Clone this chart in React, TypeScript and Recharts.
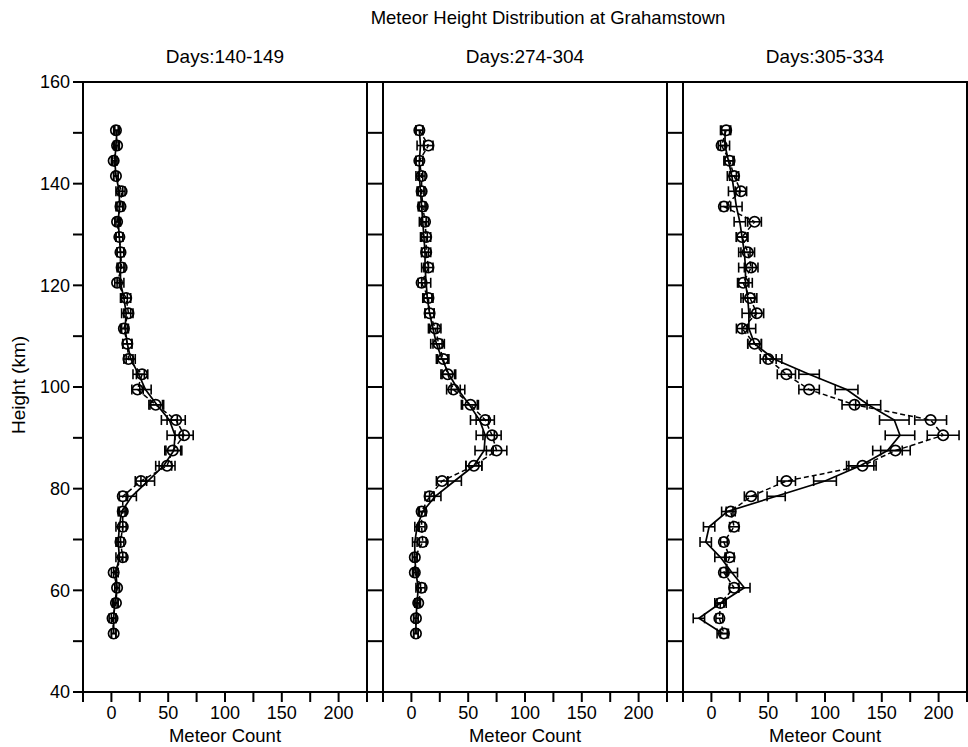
import React from 'react';
import { ScatterChart, Scatter, XAxis, YAxis, ErrorBar } from 'recharts';

const heights = [150.5,147.5,144.5,141.5,138.5,135.5,132.5,129.5,126.5,123.5,120.5,117.5,114.5,111.5,108.5,105.5,102.5,99.5,96.5,93.5,90.5,87.5,84.5,81.5,78.5,75.5,72.5,69.5,66.5,63.5,60.5,57.5,54.5,51.5];

const p1Obs = [4,5,2,4,9,8,5,7,8,9,5,13,15,11,14,15,27,23,39,57,64,54,49,26,10,10,10,8,10,2,5,4,1,2];
const p1ObsErr = [2,2,2,2,3,3,2,3,3,3,2,4,4,3,4,4,5,5,6,8,8,7,7,5,3,3,3,3,3,2,2,2,3,2];
const p1Model = [5,4,3,4,7,7,6,7,8,8,8,11,13,12,14,17,24,30,40,51,56,55,46,32,18,9,7,6,7,4,5,3,2,2];
const p1ModelErr = [2,2,2,2,3,3,2,3,3,3,3,3,4,3,4,4,5,5,6,7,7,7,7,6,4,3,3,2,3,2,2,2,2,2];

const p2Obs = [7,15,7,9,9,10,12,13,13,15,9,15,16,21,24,28,32,37,52,65,71,75,55,27,16,9,9,10,3,3,9,6,4,4];
const p2ObsErr = [3,4,3,3,3,3,3,4,4,4,3,4,4,5,5,5,6,6,7,8,8,9,7,5,4,3,3,3,2,2,3,2,2,2];
const p2Model = [7,8,7,7,8,9,10,11,12,12,13,14,16,19,22,27,33,41,51,60,65,64,55,38,21,10,5,3,3,4,6,5,4,4];
const p2ModelErr = [3,3,3,3,3,3,3,3,3,3,4,4,4,4,5,5,6,6,7,8,8,8,7,6,5,3,2,2,2,2,2,2,2,2];

const p3Obs = [13,9,16,20,26,11,38,27,32,35,28,34,40,27,38,50,66,86,126,193,204,162,133,66,35,17,20,11,16,11,20,8,7,11];
const p3ObsErr = [4,3,4,4,5,3,6,5,6,6,5,6,6,5,6,7,8,9,11,14,14,13,12,8,6,4,4,3,4,3,4,3,3,3];
const p3Model = [12,12,15,18,20,22,25,27,29,30,30,32,33,33,38,55,86,119,138,161,166,155,131,100,57,14,-2,-5,8,18,29,8,-11,10];
const p3ModelErr = [4,4,4,4,5,5,5,5,5,6,6,6,6,6,6,7,9,10,11,13,13,13,12,10,8,5,5,5,5,5,5,5,5,5];

const panelTitles = ['Days:140-149', 'Days:274-304', 'Days:305-334'];
const xTicks = [-25, 0, 25, 50, 75, 100, 125, 150, 175, 200, 225];
const yTicks = [40, 50, 60, 70, 80, 90, 100, 110, 120, 130, 140, 150, 160];

const FONT = '"Liberation Sans", Arial, sans-serif';

const rows = (vals: number[], errs: number[]) =>
  heights.map((h, i) => ({ y: h, x: vals[i], err: errs[i] }));

const panels = [
  { title: panelTitles[0], obs: rows(p1Obs, p1ObsErr), model: rows(p1Model, p1ModelErr), plotLeft: 83, labels: true },
  { title: panelTitles[1], obs: rows(p2Obs, p2ObsErr), model: rows(p2Model, p2ModelErr), plotLeft: 383, labels: false },
  { title: panelTitles[2], obs: rows(p3Obs, p3ObsErr), model: rows(p3Model, p3ModelErr), plotLeft: 683, labels: false },
];

const PLOT_W = 284;
const Y_W = 50;
const R_W = 20;
const TOP = 82;
const BOTTOM = 692;
const TOP_H = 20;
const BOT_H = 40;
const H = 747;

const circleShape = (p: any) => (
  <circle cx={p.cx} cy={p.cy} r={5.2} fill="none" stroke="#000" strokeWidth={1.7} />
);
const noShape = () => <g />;

function Panel({ panel }: { panel: typeof panels[number] }) {
  const width = Y_W + PLOT_W + R_W;
  const axisStyle = { stroke: '#000', strokeWidth: 2 };
  return (
    <div style={{ position: 'absolute', left: panel.plotLeft - Y_W, top: 0 }}>
      <ScatterChart
        width={width}
        height={H}
        margin={{ top: TOP - TOP_H, bottom: H - BOTTOM - BOT_H, left: 0, right: 0 }}
      >
        <XAxis
          xAxisId="b"
          type="number"
          dataKey="x"
          domain={[-25, 225]}
          ticks={xTicks}
          interval={0}
          allowDataOverflow
          height={BOT_H}
          tickSize={10}
          tickMargin={4}
          axisLine={axisStyle}
          tickLine={axisStyle}
          tick={{ fill: '#000', fontSize: 18, fontFamily: FONT }}
          tickFormatter={(v: number) => (v >= 0 && v % 50 === 0 ? String(v) : '')}
        />
        <XAxis
          xAxisId="t"
          orientation="top"
          type="number"
          domain={[-25, 225]}
          ticks={xTicks}
          interval={0}
          allowDataOverflow
          height={TOP_H}
          tickSize={10}
          axisLine={axisStyle}
          tickLine={axisStyle}
          tickFormatter={() => ''}
        />
        <YAxis
          yAxisId="l"
          type="number"
          dataKey="y"
          domain={[40, 160]}
          ticks={yTicks}
          interval={0}
          allowDataOverflow
          width={Y_W}
          tickSize={panel.labels ? 10 : 8}
          tickMargin={3}
          axisLine={axisStyle}
          tickLine={axisStyle}
          tick={{ fill: '#000', fontSize: 18, fontFamily: FONT }}
          tickFormatter={(v: number) => (panel.labels && v % 20 === 0 ? String(v) : '')}
        />
        <YAxis
          yAxisId="r"
          orientation="right"
          type="number"
          domain={[40, 160]}
          ticks={yTicks}
          interval={0}
          allowDataOverflow
          width={R_W}
          tickSize={8}
          axisLine={axisStyle}
          tickLine={axisStyle}
          tickFormatter={() => ''}
        />
        <Scatter
          data={panel.model}
          xAxisId="b"
          yAxisId="l"
          isAnimationActive={false}
          line={{ stroke: '#000', strokeWidth: 1.7 }}
          shape={noShape}
        >
          <ErrorBar dataKey="err" direction="x" width={5} stroke="#000" strokeWidth={1.6} />
        </Scatter>
        <Scatter
          data={panel.obs}
          xAxisId="b"
          yAxisId="l"
          isAnimationActive={false}
          line={{ stroke: '#000', strokeWidth: 1.5, strokeDasharray: '5 3' }}
          shape={circleShape}
        >
          <ErrorBar dataKey="err" direction="x" width={5} stroke="#000" strokeWidth={1.6} />
        </Scatter>
      </ScatterChart>
    </div>
  );
}

const centered = (x: number, y: number, size: number): React.CSSProperties => ({
  position: 'absolute',
  left: x,
  top: y,
  transform: 'translate(-50%, -50%)',
  whiteSpace: 'nowrap',
  fontSize: size,
  lineHeight: '1',
  color: '#000',
});

export default function App() {
  return (
    <div
      style={{
        position: 'fixed',
        left: 0,
        top: 0,
        width: 968,
        height: 747,
        overflow: 'hidden',
        background: '#fff',
        fontFamily: FONT,
      }}
    >
      <div style={centered(548, 18, 18.5)}>Meteor Height Distribution at Grahamstown</div>
      {panels.map((p) => (
        <React.Fragment key={p.title}>
          <div style={centered(p.plotLeft + PLOT_W / 2, 56, 19)}>{p.title}</div>
          <div style={centered(p.plotLeft + PLOT_W / 2, 736, 18.5)}>Meteor Count</div>
          <Panel panel={p} />
        </React.Fragment>
      ))}
      <div style={{ ...centered(18, 385, 19), transform: 'translate(-50%, -50%) rotate(-90deg)' }}>
        Height (km)
      </div>
    </div>
  );
}
